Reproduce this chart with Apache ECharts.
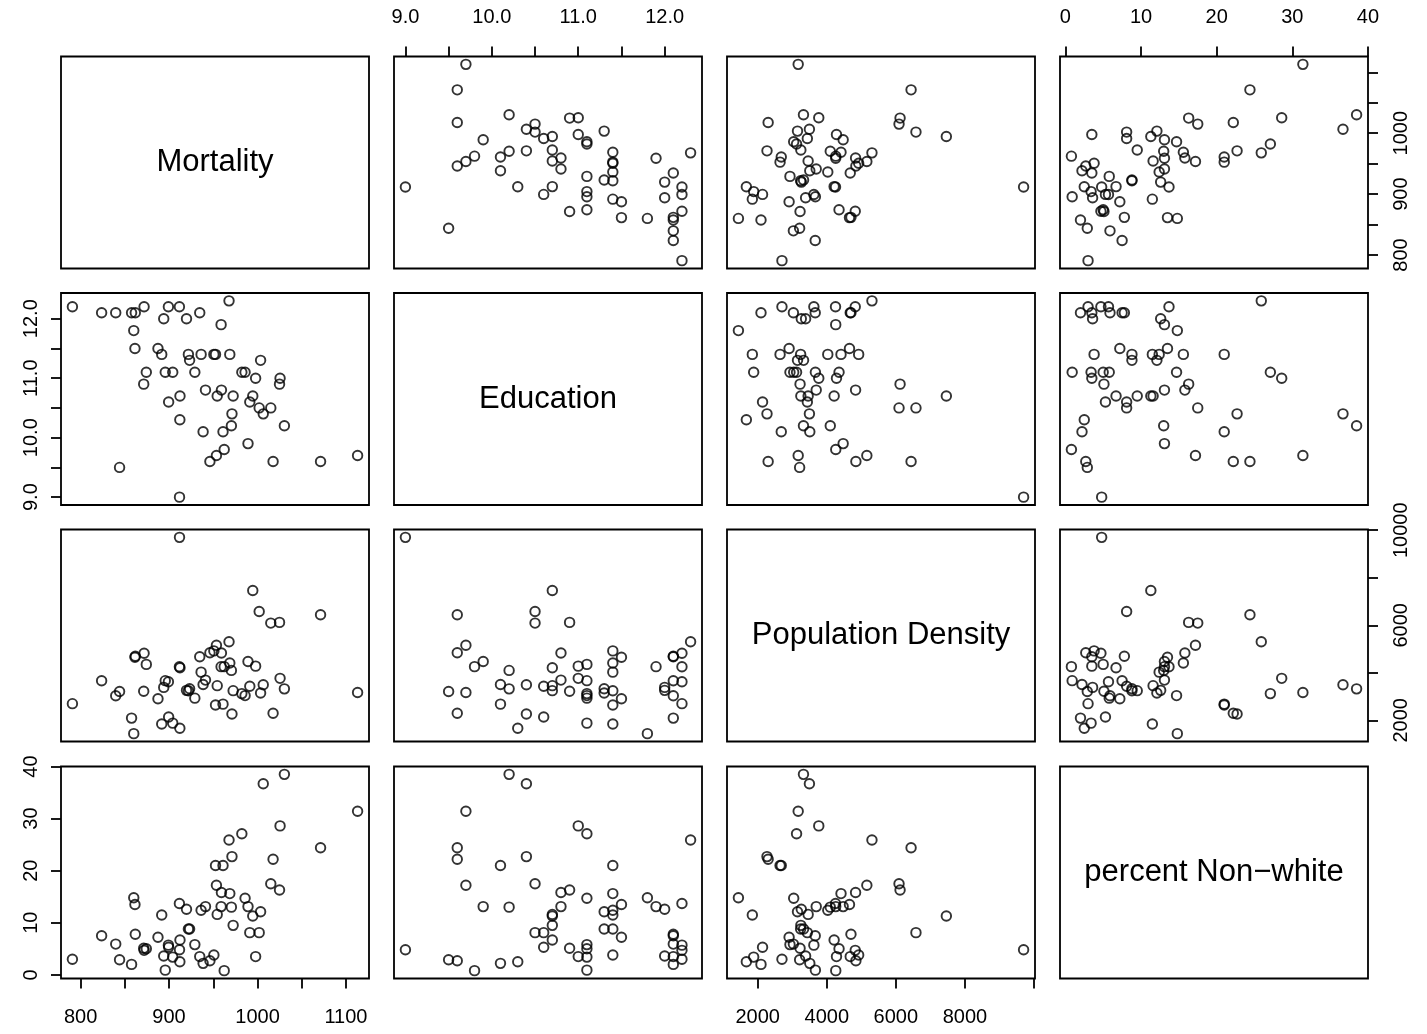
<!DOCTYPE html>
<html>
<head>
<meta charset="utf-8">
<script src="https://cdn.jsdelivr.net/npm/echarts@6/dist/echarts.min.js"></script>
<style>
  html, body { margin: 0; padding: 0; background: #ffffff; }
  #chart { width: 1427px; height: 1034px; }
</style>
</head>
<body>
<div id="chart"></div>
<script>
// Scatterplot matrix of four variables measured for 60 US metropolitan areas.
const varNames = ['Mortality', 'Education', 'Population Density', 'percent Non\u2212white'];

const mortality = [
  921.87, 997.87, 962.35, 982.29, 1071.29, 1030.38, 934.70, 899.53, 1001.90, 912.35,
  1017.61, 1024.89, 970.47, 985.95, 958.84, 860.10, 936.23, 871.77, 959.22, 941.18,
  891.71, 871.34, 971.12, 887.47, 952.53, 968.67, 919.73, 844.05, 861.83, 989.26,
  1006.49, 861.44, 929.15, 857.62, 961.01, 923.23, 1113.16, 994.65, 1015.02, 991.29,
  893.99, 938.50, 946.19, 1025.50, 874.28, 953.56, 839.71, 911.70, 790.73, 899.26,
  904.16, 950.67, 972.46, 912.20, 967.80, 823.76, 1003.50, 895.70, 911.82, 954.44
];
const education = [
  11.4, 11.0, 9.8, 11.1, 9.6, 10.2, 12.1, 10.6, 10.5, 10.7,
  9.6, 10.9, 10.2, 11.1, 11.9, 11.8, 11.4, 12.2, 10.8, 10.8,
  11.4, 10.9, 10.4, 11.5, 11.4, 11.4, 12.0, 9.5, 12.1, 9.9,
  10.4, 11.5, 11.1, 12.1, 10.1, 11.3, 9.7, 10.7, 10.5, 10.6,
  12.0, 10.1, 9.6, 11.0, 11.1, 9.7, 12.1, 12.2, 12.2, 12.2,
  11.1, 11.4, 10.7, 10.3, 12.3, 12.1, 11.3, 11.1, 9.0, 10.7
];
const density = [
  3243, 4281, 4260, 3125, 6441, 3325, 4679, 2140, 6582, 4213,
  2302, 6122, 4101, 3042, 4259, 1441, 4029, 4824, 4834, 3694,
  1844, 3226, 2269, 2909, 2647, 4412, 3262, 3214, 4700, 4474,
  3497, 4657, 2934, 2095, 2682, 3327, 3172, 7462, 6092, 3437,
  3387, 3508, 4843, 3768, 4355, 5160, 3033, 4253, 2702, 3626,
  1883, 4923, 3249, 1671, 5308, 3665, 3152, 3670, 9699, 3460
];
const nonWhite = [
  8.8, 3.5, 0.8, 27.1, 24.4, 38.5, 3.5, 5.3, 8.1, 6.7,
  22.2, 16.3, 13.0, 14.7, 13.1, 14.8, 12.4, 4.7, 15.8, 13.1,
  11.5, 5.1, 22.7, 7.2, 21.0, 15.6, 12.6, 2.9, 7.8, 13.1,
  36.7, 13.5, 5.8, 2.0, 21.0, 8.8, 31.4, 11.3, 17.5, 8.1,
  3.6, 2.2, 2.7, 28.6, 5.0, 17.2, 5.9, 13.7, 3.0, 5.7,
  3.4, 3.8, 9.5, 2.5, 25.9, 7.5, 12.1, 0.9, 4.8, 11.6
];

// Tick positions and the tick labels printed on the outer axes
const mortalityTicks = [800, 850, 900, 950, 1000, 1050, 1100];
const mortalityLabelsBottom = [800, 900, 1000, 1100];
const mortalityLabelsRight = [800, 900, 1000];
const educationTicks = [9, 9.5, 10, 10.5, 11, 11.5, 12];
const educationLabels = [9, 10, 11, 12];
const densityTicks = [2000, 4000, 6000, 8000, 10000];
const densityLabelsBottom = [2000, 4000, 6000, 8000];
const densityLabelsRight = [2000, 6000, 10000];
const nonWhiteTicks = [0, 10, 20, 30, 40];
const nonWhiteLabels = [0, 10, 20, 30, 40];

const variables = [mortality, education, density, nonWhite];
const axisSpecs = [
  { ticks: mortalityTicks, labelsX: mortalityLabelsBottom, labelsY: mortalityLabelsRight, fmt: v => String(v) },
  { ticks: educationTicks, labelsX: educationLabels, labelsY: educationLabels, fmt: v => Number(v).toFixed(1) },
  { ticks: densityTicks, labelsX: densityLabelsBottom, labelsY: densityLabelsRight, fmt: v => String(v) },
  { ticks: nonWhiteTicks, labelsX: nonWhiteLabels, labelsY: nonWhiteLabels, fmt: v => String(v) }
];

// Panel layout
const PANEL_LEFT = [61, 394, 727, 1060];
const PANEL_TOP = [56.5, 293, 529.5, 766.5];
const PANEL_W = 308, PANEL_H = 212;
const FONT = '"Liberation Sans", Arial, Helvetica, sans-serif';
const LINE_W = 1.8;

// Each axis spans the data range padded by 4% on both sides
function paddedExtent(arr) {
  const lo = Math.min(...arr), hi = Math.max(...arr);
  const pad = (hi - lo) * 0.04;
  return [lo - pad, hi + pad];
}
const extents = variables.map(paddedExtent);

const grids = [], xAxes = [], yAxes = [], series = [];

for (let i = 0; i < 4; i++) {
  for (let j = 0; j < 4; j++) {
    const idx = i * 4 + j;
    grids.push({
      left: PANEL_LEFT[j], top: PANEL_TOP[i], width: PANEL_W, height: PANEL_H,
      show: true, borderColor: '#000', borderWidth: LINE_W, backgroundColor: 'transparent',
      containLabel: false
    });
    const diag = i === j;
    const showX = !diag && ((i === 3 && j % 2 === 0) || (i === 0 && j % 2 === 1));
    const showY = !diag && ((j === 0 && i % 2 === 1) || (j === 3 && i % 2 === 0));
    const sx = axisSpecs[j], sy = axisSpecs[i];
    xAxes.push({
      type: 'value', gridIndex: idx,
      min: extents[j][0], max: extents[j][1],
      show: showX,
      position: i === 3 ? 'bottom' : 'top',
      axisLine: { show: false, onZero: false },
      splitLine: { show: false },
      axisTick: { show: showX, inside: false, length: 10, customValues: sx.ticks,
                  lineStyle: { color: '#000', width: LINE_W } },
      axisLabel: { show: showX, customValues: sx.labelsX, margin: 29,
                   color: '#000', fontSize: 20, fontFamily: FONT, formatter: sx.fmt }
    });
    yAxes.push({
      type: 'value', gridIndex: idx,
      min: extents[i][0], max: extents[i][1],
      show: showY,
      position: j === 0 ? 'left' : 'right',
      axisLine: { show: false, onZero: false },
      splitLine: { show: false },
      axisTick: { show: showY, inside: false, length: 10, customValues: sy.ticks,
                  lineStyle: { color: '#000', width: LINE_W } },
      axisLabel: { show: showY, customValues: sy.labelsY, rotate: 90, margin: j === 0 ? 20 : 23,
                   color: '#000', fontSize: 20, fontFamily: FONT, formatter: sy.fmt }
    });
    if (!diag) {
      const xs = variables[j], ys = variables[i];
      series.push({
        type: 'scatter', xAxisIndex: idx, yAxisIndex: idx,
        data: xs.map((v, k) => [v, ys[k]]),
        symbol: 'circle', symbolSize: 9.5,
        itemStyle: { color: 'rgba(0,0,0,0)', borderColor: '#000', borderWidth: 1.9 },
        silent: true, animation: false
      });
    }
  }
}

const labelsOnDiagonal = varNames.map((name, k) => ({
  type: 'text',
  x: PANEL_LEFT[k] + PANEL_W / 2,
  y: PANEL_TOP[k] + PANEL_H / 2,
  style: {
    text: name, fill: '#000', fontSize: 31, fontFamily: FONT,
    align: 'center', verticalAlign: 'middle',
    textAlign: 'center', textVerticalAlign: 'middle'
  }
}));

const chart = echarts.init(document.getElementById('chart'), null, { renderer: 'canvas' });
chart.setOption({
  backgroundColor: '#ffffff',
  animation: false,
  grid: grids,
  xAxis: xAxes,
  yAxis: yAxes,
  series: series,
  graphic: labelsOnDiagonal
});
</script>
</body>
</html>
